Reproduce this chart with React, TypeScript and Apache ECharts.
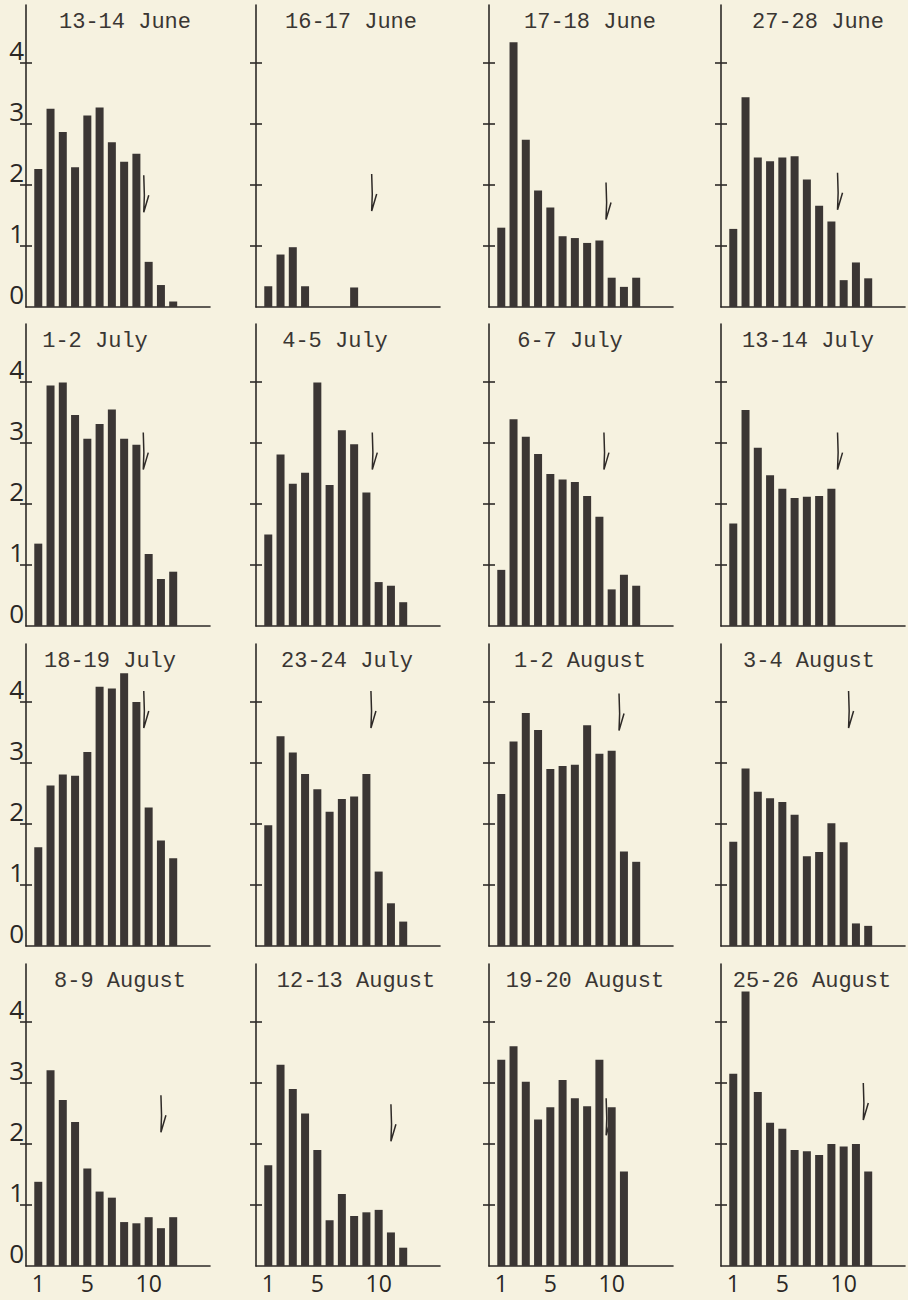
import React, { useEffect, useRef } from "react";
import * as echarts from "echarts";

// ---------- DATA ----------
const titles = [
  "13-14 June", "16-17 June", "17-18 June", "27-28 June",
  "1-2 July", "4-5 July", "6-7 July", "13-14 July",
  "18-19 July", "23-24 July", "1-2 August", "3-4 August",
  "8-9 August", "12-13 August", "19-20 August", "25-26 August",
];

const jun13_14 = [2.26, 3.25, 2.87, 2.29, 3.14, 3.27, 2.7, 2.38, 2.51, 0.74, 0.36, 0.09];
const jun16_17 = [0.34, 0.86, 0.98, 0.34, 0, 0, 0, 0.32];
const jun17_18 = [1.3, 4.34, 2.74, 1.91, 1.63, 1.16, 1.13, 1.05, 1.09, 0.48, 0.33, 0.48];
const jun27_28 = [1.28, 3.44, 2.45, 2.39, 2.45, 2.47, 2.09, 1.66, 1.4, 0.44, 0.73, 0.47];
const jul1_2 = [1.35, 3.94, 3.99, 3.46, 3.07, 3.31, 3.55, 3.07, 2.97, 1.18, 0.77, 0.89];
const jul4_5 = [1.5, 2.81, 2.33, 2.51, 3.99, 2.31, 3.21, 2.98, 2.19, 0.72, 0.66, 0.39];
const jul6_7 = [0.92, 3.39, 3.1, 2.82, 2.49, 2.4, 2.36, 2.13, 1.79, 0.6, 0.84, 0.66];
const jul13_14 = [1.68, 3.54, 2.92, 2.47, 2.25, 2.1, 2.12, 2.13, 2.25];
const jul18_19 = [1.62, 2.63, 2.81, 2.79, 3.18, 4.25, 4.22, 4.47, 4.0, 2.27, 1.73, 1.44];
const jul23_24 = [1.98, 3.44, 3.17, 2.82, 2.57, 2.2, 2.41, 2.45, 2.82, 1.22, 0.7, 0.4];
const aug1_2 = [2.49, 3.35, 3.82, 3.54, 2.9, 2.95, 2.97, 3.62, 3.15, 3.2, 1.55, 1.38];
const aug3_4 = [1.71, 2.91, 2.53, 2.42, 2.36, 2.15, 1.47, 1.54, 2.01, 1.7, 0.37, 0.33];
const aug8_9 = [1.38, 3.21, 2.72, 2.36, 1.6, 1.22, 1.12, 0.72, 0.7, 0.8, 0.62, 0.8];
const aug12_13 = [1.65, 3.3, 2.9, 2.5, 1.9, 0.75, 1.18, 0.82, 0.88, 0.92, 0.55, 0.3];
const aug19_20 = [3.38, 3.6, 3.02, 2.4, 2.6, 3.05, 2.75, 2.62, 3.38, 2.6, 1.55];
const aug25_26 = [3.15, 4.5, 2.85, 2.35, 2.25, 1.9, 1.88, 1.82, 2.0, 1.96, 2.0, 1.55];

const panelValues = [
  jun13_14, jun16_17, jun17_18, jun27_28,
  jul1_2, jul4_5, jul6_7, jul13_14,
  jul18_19, jul23_24, aug1_2, aug3_4,
  aug8_9, aug12_13, aug19_20, aug25_26,
];

// arrow marker: position along the x scale and top value on the y scale
const arrowX = [9.6, 9.43, 9.54, 9.5, 9.56, 9.48, 9.37, 9.5, 9.6, 9.37, 10.6, 10.4, 11.0, 11.0, 9.55, 11.6];
const arrowTop = [2.16, 2.18, 2.04, 2.2, 3.17, 3.17, 3.17, 3.17, 4.18, 4.18, 4.14, 4.18, 2.8, 2.65, 2.75, 3.0];

const yTickLabels = [0, 1, 2, 3, 4];
const yTickMarks = [1, 2, 3, 4];
const xTickLabels = [1, 5, 10];

// ---------- LAYOUT ----------
const colAxisX = [26, 256, 489, 721];
const rowBase = [307, 626, 946, 1266];
const titleDx = [99, 95, 101, 97, 69, 79, 81, 87, 84, 91, 91, 88, 94, 100, 96, 91];
const PLOT_H = 302;
const PLOT_W = 184;
const INK = "#2e2a27";
const BAR = "#3b3634";
const LABEL_FONT = "'Open Sans', 'DejaVu Sans', sans-serif";

export default function App() {
  const ref = useRef<HTMLDivElement>(null);

  useEffect(() => {
    if (!ref.current) return;
    const chart = echarts.init(ref.current, undefined, { renderer: "svg" });

    const grids: any[] = [];
    const xAxes: any[] = [];
    const yAxes: any[] = [];
    const series: any[] = [];
    const graphics: any[] = [];

    panelValues.forEach((vals, i) => {
      const r = Math.floor(i / 4);
      const c = i % 4;
      grids.push({
        left: colAxisX[c],
        top: rowBase[r] - PLOT_H,
        width: PLOT_W,
        height: PLOT_H,
        containLabel: false,
        outerBoundsMode: "none",
      });
      xAxes.push({
        gridIndex: i,
        type: "value",
        min: 0,
        max: 15,
        axisLine: { show: true, onZero: false, lineStyle: { color: INK, width: 1.6 } },
        axisTick: { show: false },
        splitLine: { show: false },
        axisLabel:
          r === 3
            ? {
                show: true,
                customValues: xTickLabels,
                margin: 5,
                color: "#2a2725",
                fontSize: 23,
                fontFamily: LABEL_FONT,
              }
            : { show: false },
      });
      yAxes.push({
        gridIndex: i,
        type: "value",
        min: 0,
        max: 4.95,
        interval: 1,
        position: "left",
        axisLine: { show: true, onZero: false, lineStyle: { color: INK, width: 1.6 } },
        axisTick: {
          show: true,
          inside: false,
          length: 6,
          customValues: yTickMarks,
          lineStyle: { color: INK, width: 1.6 },
        },
        splitLine: { show: false },
        axisLabel:
          c === 0
            ? {
                show: true,
                customValues: yTickLabels,
                margin: 2,
                color: "#2a2725",
                fontSize: 26,
                fontFamily: LABEL_FONT,
                verticalAlign: "bottom",
              }
            : { show: false },
      });
      yAxes.push({
        gridIndex: i,
        type: "value",
        min: 0,
        max: 4.95,
        interval: 1,
        position: "left",
        axisLine: { show: false },
        axisTick: {
          show: true,
          inside: true,
          length: 6,
          customValues: yTickMarks,
          lineStyle: { color: INK, width: 1.6 },
        },
        splitLine: { show: false },
        axisLabel: { show: false },
      });
      series.push({
        type: "bar",
        xAxisIndex: i,
        yAxisIndex: 2 * i,
        barWidth: 8,
        data: vals.map((v, k) => [k + 1, v]),
        itemStyle: { color: BAR },
        silent: true,
      });
      series.push({
        type: "custom",
        xAxisIndex: i,
        yAxisIndex: 2 * i,
        clip: false,
        silent: true,
        data: [[arrowX[i], arrowTop[i]]],
        renderItem: (_p: any, api: any) => {
          const pt = api.coord([api.value(0), api.value(1)]);
          const x = pt[0];
          const y = pt[1];
          return {
            type: "polyline",
            shape: {
              points: [
                [x, y],
                [x + 0.6, y + 20],
                [x, y + 37],
                [x + 5, y + 20],
              ],
            },
            style: { stroke: INK, lineWidth: 1.5, fill: "none" },
          };
        },
      });
      graphics.push({
        type: "text",
        x: colAxisX[c] + titleDx[i],
        y: rowBase[r] - 285,
        style: {
          text: titles[i],
          fill: "#3a3633",
          font: "22px 'Liberation Mono'",
          textAlign: "center",
          textVerticalAlign: "middle",
        },
      });
    });

    chart.setOption({
      animation: false,
      backgroundColor: "#f6f2e0",
      grid: grids,
      xAxis: xAxes,
      yAxis: yAxes,
      series,
      graphic: graphics,
    });

    return () => chart.dispose();
  }, []);

  return (
    <div
      ref={ref}
      style={{ position: "absolute", left: 0, top: 0, width: 908, height: 1300 }}
    />
  );
}
